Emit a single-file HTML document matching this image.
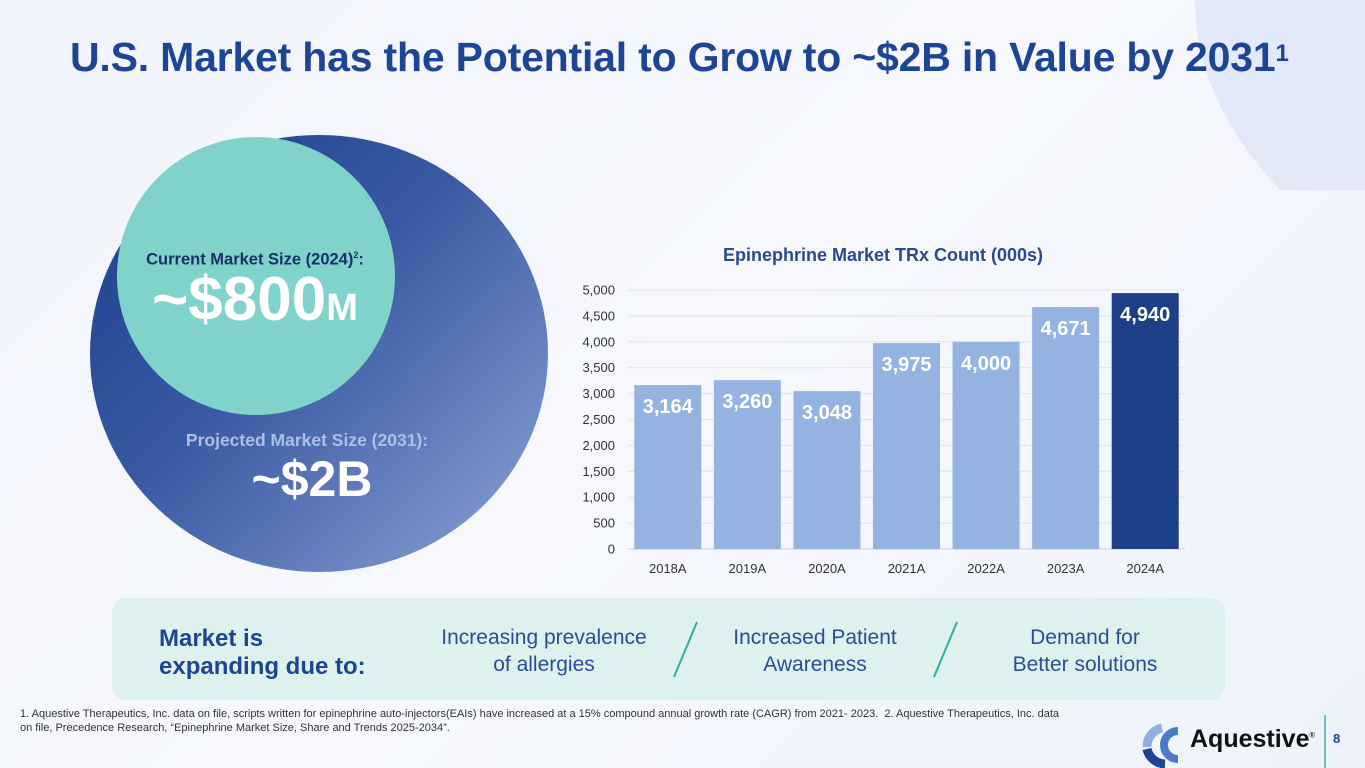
<!DOCTYPE html>
<html><head><meta charset="utf-8">
<style>
*{margin:0;padding:0;box-sizing:border-box}
html,body{width:1365px;height:768px;overflow:hidden}
body{font-family:"Liberation Sans",sans-serif;background:linear-gradient(135deg,#f1f4fb 0%,#f6f8fc 50%,#eef3fb 100%);position:relative}
.abs{position:absolute}
</style></head><body>
<svg class="abs" style="left:0;top:0" width="1365" height="768"><path d="M1195,0 L1365,0 L1365,190 L1280,190 Q1195,100 1195,0 Z" fill="#dde5f6" opacity=".8"/></svg>
<div class="abs" style="left:70px;top:34px;font-size:41px;font-weight:bold;color:#1d4593;letter-spacing:-0.2px;white-space:nowrap">U.S. Market has the Potential to Grow to ~$2B in Value by 2031<span style="font-size:24px;vertical-align:10px">1</span></div>

<div class="abs" style="left:90px;top:135px;width:458px;height:437px;border-radius:50%;background:linear-gradient(135deg,#1a3e8c 0%,#3a5aa3 45%,#8ea4d8 100%)"></div>
<div class="abs" style="left:117px;top:137px;width:278px;height:278px;border-radius:50%;background:#7fd3cb"></div>
<div class="abs" style="left:100px;top:250px;width:310px;text-align:center;font-size:16.5px;font-weight:bold;color:#15306b">Current Market Size (2024)<sup style="font-size:9px">2</sup>:</div>
<div class="abs" style="left:100px;top:264px;width:310px;text-align:center;font-size:62px;font-weight:bold;color:#fff">~$800<span style="font-size:38px">M</span></div>
<div class="abs" style="left:147px;top:430px;width:320px;text-align:center;font-size:17.5px;font-weight:bold;color:#aebfe6">Projected Market Size (2031):</div>
<div class="abs" style="left:152px;top:450px;width:320px;text-align:center;font-size:50px;font-weight:bold;color:#fff">~$2B</div>

<svg class="abs" style="left:0;top:0" width="1365" height="768">
<text x="883" y="261" text-anchor="middle" font-size="18" font-weight="bold" fill="#2a4a8e">Epinephrine Market TRx Count (000s)</text>
<g id="g"></g>
</svg>

<div class="abs" style="left:112px;top:598px;width:1113px;height:102px;border-radius:14px;background:#dff1ef"></div>
<div class="abs" style="left:159px;top:625px;font-size:24px;font-weight:bold;color:#1d4593;line-height:28px">Market is<br>expanding due to:</div>
<div class="abs" style="left:420px;top:624px;width:248px;text-align:center;font-size:21px;color:#2a4d96;line-height:27px">Increasing prevalence<br>of allergies</div>
<div class="abs" style="left:700px;top:624px;width:230px;text-align:center;font-size:21px;color:#2a4d96;line-height:27px">Increased Patient<br>Awareness</div>
<div class="abs" style="left:980px;top:624px;width:210px;text-align:center;font-size:21px;color:#2a4d96;line-height:27px">Demand for<br>Better solutions</div>
<svg class="abs" style="left:0;top:0" width="1365" height="768">
<line x1="697" y1="622" x2="674" y2="677" stroke="#2bb0a0" stroke-width="2"/>
<line x1="957" y1="622" x2="934" y2="677" stroke="#2bb0a0" stroke-width="2"/>
<line x1="1325" y1="715" x2="1325" y2="768" stroke="#3ab3a6" stroke-width="1.5"/>
<path d="M1162,728 A19,19 0 0 0 1147,747" stroke="#8eb0e3" stroke-width="9" fill="none"/>
<path d="M1147,749 A19,19 0 0 0 1165,764" stroke="#1d4593" stroke-width="9" fill="none"/>
<path d="M1178,731 A14,14 0 0 0 1178,759" stroke="#4d79c9" stroke-width="8" fill="none"/>
</svg>
<div class="abs" style="left:20px;top:707px;width:1045px;font-size:11px;color:#333;line-height:14px">1. Aquestive Therapeutics, Inc. data on file, scripts written for epinephrine auto-injectors(EAIs) have increased at a 15% compound annual growth rate (CAGR) from 2021- 2023.&nbsp; 2. Aquestive Therapeutics, Inc. data on file, Precedence Research, “Epinephrine Market Size, Share and Trends 2025-2034”.</div>
<div class="abs" style="left:1190px;top:725px;font-size:25px;font-weight:bold;color:#111">Aquestive<sup style="font-size:7px">®</sup></div>
<div class="abs" style="left:1333px;top:731px;font-size:13px;font-weight:bold;color:#1d4593">8</div>

<script>
const categories=["2018A","2019A","2020A","2021A","2022A","2023A","2024A"];
const values=[3164,3260,3048,3975,4000,4671,4940];
const valueLabels=["3,164","3,260","3,048","3,975","4,000","4,671","4,940"];
const yTicks=[0,500,1000,1500,2000,2500,3000,3500,4000,4500,5000];
const yTickLabels=["0","500","1,000","1,500","2,000","2,500","3,000","3,500","4,000","4,500","5,000"];
const NS="http://www.w3.org/2000/svg";
const g=document.getElementById('g');
const x0=628,x1=1185,yb=549,yt=290,ymax=5000;
const band=(x1-x0)/categories.length;
const yS=v=>yb-(v/ymax)*(yb-yt);
const xS=i=>x0+band*i+band/2;
function mk(t,a,txt){const e=document.createElementNS(NS,t);for(const k in a)e.setAttribute(k,a[k]);if(txt!=null)e.textContent=txt;g.appendChild(e);return e;}
yTicks.forEach((v,i)=>{
 const l=mk('line',{x1:x0,x2:x1,y1:yS(v),y2:yS(v),stroke:i===0?'#c8d0e0':'#dde3ef','stroke-width':1});
 
 
 const t=mk('text',{x:615,y:yS(v)+4.5,'text-anchor':'end','font-size':13,fill:'#333'},yTickLabels[i]);
 
 
});
const bw=67;
values.forEach((v,i)=>{
 const last=i===values.length-1;
 const r=mk('rect',{x:xS(i)-bw/2,y:yS(v),width:bw,height:yb-yS(v),fill:last?'#1d3f88':'#95b3e1'});
 
 
 const t=mk('text',{x:xS(i),y:yS(v)+28,'text-anchor':'middle','font-size':20,'font-weight':'bold',fill:'#fff'},valueLabels[i]);
 
 
 const c=mk('text',{x:xS(i),y:573,'text-anchor':'middle','font-size':13,fill:'#333'},categories[i]);
 
 
});
</script>
</body></html>
